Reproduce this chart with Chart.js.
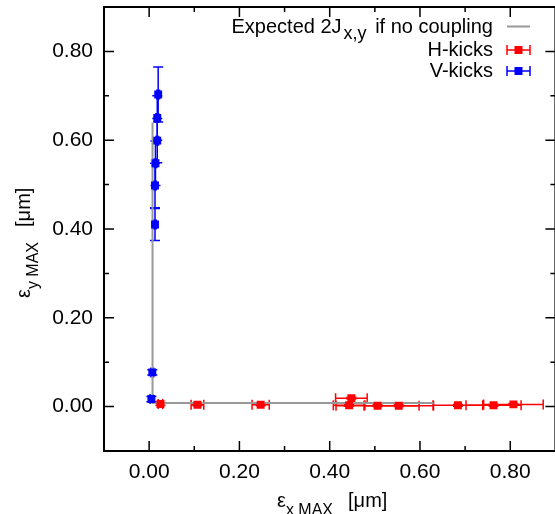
<!DOCTYPE html>
<html>
<head>
<meta charset="utf-8">
<script src="https://cdn.jsdelivr.net/npm/chart.js@4"></script>
<style>
  html, body { margin: 0; padding: 0; background: #fff; overflow: hidden; }
  #wrap { position: relative; width: 561px; height: 514px; }
  canvas { position: absolute; left: 0; top: 0; }
  .t { position: absolute; font: 20px "Liberation Sans", Arial, sans-serif; line-height: 20px; white-space: nowrap; color: #000; }
  .t sub { font-size: 16px; position: relative; top: 8px; vertical-align: baseline; line-height: 1; }
  .leg { right: 68px; }
  .leg sub { top: 6px; font-size: 18px; margin-left: 2px; margin-right: 3px; }
  #ytitle { transform: rotate(-90deg); transform-origin: 0 0; }
</style>
</head>
<body>
<div id="wrap">
  <canvas id="emitChart" width="561" height="514"></canvas>
  <div class="t leg" style="top:16px">Expected 2J<sub>x,y</sub> if no coupling</div>
  <div class="t leg" style="top:39px">H-kicks</div>
  <div class="t leg" style="top:60px">V-kicks</div>
  <div class="t" id="xtitle" style="left:277px; top:490px">ε<sub>x MAX</sub><span style="margin-left:15px">[μm]</span></div>
  <div class="t" id="ytitle" style="left:13px; top:298px">ε<sub>y MAX</sub><span style="margin-left:15px">[μm]</span></div>
</div>
<script>
// ── Data ──────────────────────────────────────────────────────────────────────
const xTicks = [0, 0.2, 0.4, 0.6, 0.8];
const yTicks = [0, 0.2, 0.4, 0.6, 0.8];
const xMinor = [0.1, 0.3, 0.5, 0.7];
const yMinor = [0.1, 0.3, 0.5, 0.7];

// expected 2J (no coupling)
const expX = [0.0075, 0.0075, 0.63];
const expY = [0.64, 0.008, 0.008];

// horizontal kicks
const hX    = [0.025, 0.107, 0.247, 0.448, 0.443, 0.506, 0.553, 0.684, 0.763, 0.807];
const hY    = [0.006, 0.004, 0.004, 0.019, 0.003, 0.002, 0.002, 0.003, 0.003, 0.005];
const hXErr = [0.005, 0.014, 0.019, 0.035, 0.035, 0.092, 0.077, 0.055, 0.061, 0.066];
const hYErr = [0.003, 0.002, 0.002, 0.002, 0.002, 0.002, 0.002, 0.002, 0.002, 0.002];

// vertical kicks
const vX    = [0.020, 0.018, 0.018, 0.014, 0.013, 0.013, 0.007, 0.005];
const vY    = [0.703, 0.650, 0.599, 0.548, 0.498, 0.410, 0.077, 0.017];
const vXErr = [0.003, 0.003, 0.003, 0.003, 0.003, 0.003, 0.003, 0.003];
const vYErr = [0.062, 0.050, 0.050, 0.050, 0.050, 0.036, 0.006, 0.006];

const RED = "#ff0000", BLUE = "#0000ff", GREY = "#999999";
const FONT = { family: "'Liberation Sans', Arial, sans-serif", size: 21 };

const pts = (xs, ys) => xs.map((x, i) => ({ x: x, y: ys[i] }));

// ── Error bars, drawn through the scales ──────────────────────────────────────
const errorBars = {
    id: "errorBars",
    beforeDatasetsDraw(chart) {
        const { ctx, scales: { x, y } } = chart;
        const cap = 5;
        ctx.save();
        chart.data.datasets.forEach(ds => {
            if (!ds.xErr) return;
            ctx.strokeStyle = ds.borderColor;
            ctx.lineWidth = 1.5;
            ds.data.forEach((p, i) => {
                const px = x.getPixelForValue(p.x), py = y.getPixelForValue(p.y);
                const x0 = x.getPixelForValue(p.x - ds.xErr[i]), x1 = x.getPixelForValue(p.x + ds.xErr[i]);
                const y0 = y.getPixelForValue(p.y - ds.yErr[i]), y1 = y.getPixelForValue(p.y + ds.yErr[i]);
                ctx.beginPath();
                ctx.moveTo(x0, py); ctx.lineTo(x1, py);
                ctx.moveTo(x0, py - cap); ctx.lineTo(x0, py + cap);
                ctx.moveTo(x1, py - cap); ctx.lineTo(x1, py + cap);
                ctx.moveTo(px, y0); ctx.lineTo(px, y1);
                ctx.moveTo(px - cap, y0); ctx.lineTo(px + cap, y0);
                ctx.moveTo(px - cap, y1); ctx.lineTo(px + cap, y1);
                ctx.stroke();
            });
        });
        ctx.restore();
    }
};

// ── Frame, inward ticks and legend samples ────────────────────────────────────
const frame = {
    id: "frame",
    afterDraw(chart) {
        const { ctx, chartArea: a, scales: { x, y } } = chart;
        ctx.save();
        ctx.strokeStyle = "#000";
        ctx.lineWidth = 1.5;
        ctx.beginPath();
        const tickX = (v, len) => {
            const p = x.getPixelForValue(v);
            ctx.moveTo(p, a.bottom); ctx.lineTo(p, a.bottom - len);
            ctx.moveTo(p, a.top); ctx.lineTo(p, a.top + len);
        };
        const tickY = (v, len) => {
            const p = y.getPixelForValue(v);
            ctx.moveTo(a.left, p); ctx.lineTo(a.left + len, p);
            ctx.moveTo(a.right, p); ctx.lineTo(a.right - len, p);
        };
        xTicks.forEach(v => tickX(v, 10));
        xMinor.forEach(v => tickX(v, 5));
        yTicks.forEach(v => tickY(v, 10));
        yMinor.forEach(v => tickY(v, 5));
        ctx.stroke();
        ctx.lineWidth = 2;
        ctx.strokeRect(a.left, a.top, a.right - a.left, a.bottom - a.top);

        // legend samples
        const sx0 = 507, sx1 = 530, sxm = 518.5;
        ctx.lineWidth = 2;
        ctx.strokeStyle = GREY;
        ctx.beginPath(); ctx.moveTo(sx0, 26.5); ctx.lineTo(sx1, 26.5); ctx.stroke();
        [[RED, 50], [BLUE, 71]].forEach(([c, sy]) => {
            ctx.strokeStyle = c; ctx.fillStyle = c; ctx.lineWidth = 1.5;
            ctx.beginPath();
            ctx.moveTo(sx0, sy); ctx.lineTo(sx1, sy);
            ctx.moveTo(sx0, sy - 5); ctx.lineTo(sx0, sy + 5);
            ctx.moveTo(sx1, sy - 5); ctx.lineTo(sx1, sy + 5);
            ctx.stroke();
            ctx.fillRect(sxm - 4, sy - 4, 8, 8);
        });
        ctx.restore();
    }
};

// ── Chart ─────────────────────────────────────────────────────────────────────
const ctx = document.getElementById("emitChart").getContext("2d");
new Chart(ctx, {
    type: "scatter",
    data: {
        datasets: [
            {
                label: "V-kicks",
                data: pts(vX, vY),
                xErr: vXErr, yErr: vYErr,
                borderColor: BLUE, backgroundColor: BLUE,
                pointStyle: "rect", pointRadius: 5.6, borderWidth: 0,
                order: 1
            },
            {
                label: "H-kicks",
                data: pts(hX, hY),
                xErr: hXErr, yErr: hYErr,
                borderColor: RED, backgroundColor: RED,
                pointStyle: "rect", pointRadius: 5.6, borderWidth: 0,
                order: 2
            },
            {
                label: "Expected 2Jx,y if no coupling",
                data: pts(expX, expY),
                showLine: true,
                borderColor: GREY, borderWidth: 2,
                pointRadius: 0,
                order: 3
            }
        ]
    },
    options: {
        responsive: false,
        animation: false,
        events: [],
        layout: { padding: { top: 7, right: 4, left: 0, bottom: 0 } },
        plugins: { legend: { display: false }, tooltip: { enabled: false } },
        scales: {
            x: {
                type: "linear", min: -0.1, max: 0.9,
                afterBuildTicks: s => { s.ticks = xTicks.map(v => ({ value: v })); },
                afterFit: s => { s.height = 63; s.paddingLeft = 0; s.paddingRight = 0; },
                ticks: { color: "#000", font: FONT, padding: 9, maxRotation: 0, callback: v => v.toFixed(2) },
                grid: { display: false, drawTicks: false },
                border: { display: false }
            },
            y: {
                type: "linear", min: -0.1, max: 0.9,
                afterBuildTicks: s => { s.ticks = yTicks.map(v => ({ value: v })); },
                afterFit: s => { s.width = 104; s.paddingTop = 0; s.paddingBottom = 0; },
                ticks: { color: "#000", font: FONT, padding: 11, callback: v => v.toFixed(2) },
                grid: { display: false, drawTicks: false },
                border: { display: false }
            }
        }
    },
    plugins: [errorBars, frame]
});
</script>
</body>
</html>
